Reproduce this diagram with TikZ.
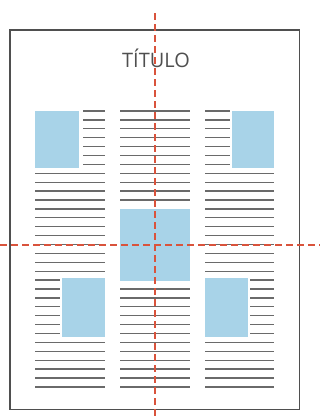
\documentclass[tikz,border=0pt]{standalone}
\usepackage{fontspec}
\setmainfont{Open Sans}
\definecolor{pageline}{HTML}{4F4F4F}
\definecolor{textline}{HTML}{6A6A6A}
\definecolor{imgblue}{HTML}{A8D3E8}
\definecolor{guide}{HTML}{D9533C}
\begin{document}
\begin{tikzpicture}[x=1bp,y=-1bp,
  txt/.style={draw=textline,line width=1.3bp},
  img/.style={fill=imgblue,draw=none},
  guideline/.style={draw=guide,line width=1.6bp,dash pattern=on 7bp off 4bp}]
\useasboundingbox (0,0) rectangle (320,419);
\fill[white] (0,0) rectangle (320,419);
% page
\draw[pageline,line width=1.5bp] (10,30) rectangle (299.5,409.3);
\node[text=pageline,font=\fontsize{20}{24}\selectfont,inner sep=0pt,anchor=base] (title) at (156,67.7) {TÍTULO};
% images
\fill[img] (35,111) rectangle (79,167.7);
\fill[img] (231.5,111) rectangle (274,167.7);
\fill[img] (120,208.5) rectangle (190,281);
\fill[img] (62,277.5) rectangle (105,337);
\fill[img] (205,277.5) rectangle (248.3,337);
% text lines
\foreach \i in {0,...,31}{
  \pgfmathsetmacro{\yy}{111+8.9*\i}
  % left column
  \ifnum\i<7
    \draw[txt] (83,\yy) -- (105,\yy);
  \else\ifnum\i>18 \ifnum\i<26
    \draw[txt] (35,\yy) -- (60,\yy);
  \else
    \draw[txt] (35,\yy) -- (105,\yy);
  \fi\else
    \draw[txt] (35,\yy) -- (105,\yy);
  \fi\fi
  % middle column
  \ifnum\i<11
    \draw[txt] (120,\yy) -- (190,\yy);
  \else\ifnum\i>19
    \draw[txt] (120,\yy) -- (190,\yy);
  \fi\fi
  % right column
  \ifnum\i<7
    \draw[txt] (205,\yy) -- (229.5,\yy);
  \else\ifnum\i>18 \ifnum\i<26
    \draw[txt] (250,\yy) -- (274,\yy);
  \else
    \draw[txt] (205,\yy) -- (274,\yy);
  \fi\else
    \draw[txt] (205,\yy) -- (274,\yy);
  \fi\fi
}
% guides
\coordinate (vtop) at (154.7,13);
\coordinate (vbot) at (154.7,419);
\coordinate (hleft) at (0,245);
\coordinate (hright) at (320,245);
\draw[guideline] (vtop) -- (vbot);
\draw[guideline] (hleft) -- (hright);
\end{tikzpicture}
\end{document}
